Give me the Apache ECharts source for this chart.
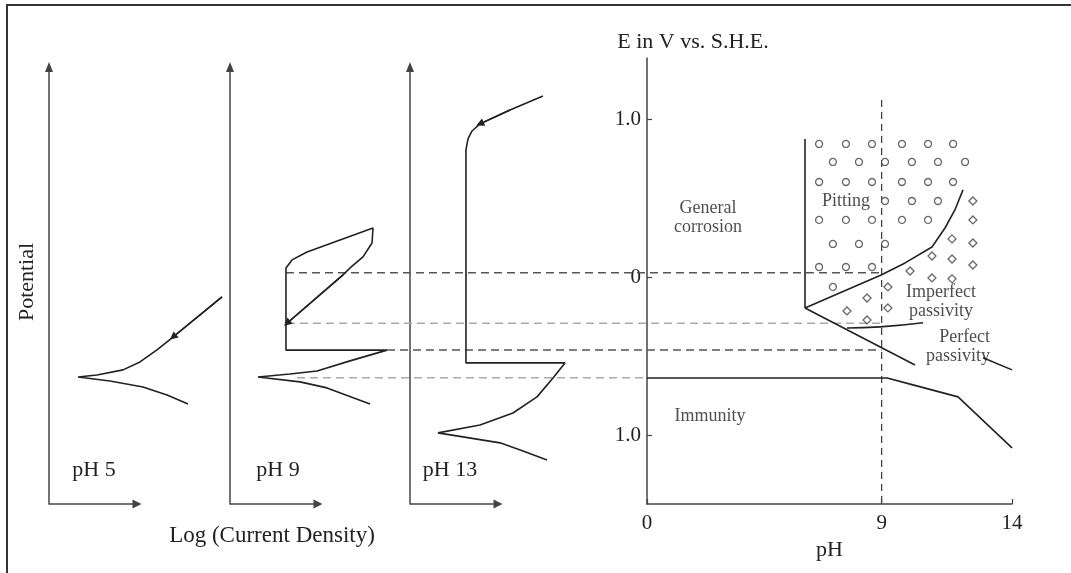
<!DOCTYPE html>
<html>
<head>
<meta charset="utf-8">
<script src="https://cdn.jsdelivr.net/npm/echarts@6/dist/echarts.min.js"></script>
<style>
  html, body { margin: 0; padding: 0; background: #fff; }
  #wrap { position: relative; width: 1071px; height: 573px; overflow: hidden; }
  #chart { width: 1071px; height: 573px; }
  #frame { position: absolute; left: 6px; top: 4px; right: -10px; bottom: -10px;
           border-left: 2px solid #333; border-top: 2px solid #333; pointer-events: none; }
</style>
</head>
<body>
<div id="wrap"><div id="chart"></div><div id="frame"></div></div>
<script>
// ---- Polarization curves: log current density (arbitrary units) vs potential (V vs S.H.E.)
const ph5LogI  = [19.66, 14.09, 12.27, 10.34, 8.41, 5.45, 3.30, 6.93, 10.68, 13.41, 15.80];
const ph5E     = [-0.123, -0.377, -0.459, -0.535, -0.585, -0.617, -0.630, -0.655, -0.693, -0.744, -0.801];

const ph9LogI  = [15.91, 11.02, 7.95, 3.18, 6.82, 9.89, 13.64, 17.84, 6.36, 6.36, 7.05, 8.75, 12.5, 16.25, 16.14, 15.11, 13.64, 12.84, 6.48];
const ph9E     = [-0.801, -0.699, -0.661, -0.630, -0.611, -0.592, -0.528, -0.46, -0.46, 0.06, 0.111, 0.161, 0.237, 0.313, 0.218, 0.130, 0.060, 0.016, -0.29];

const ph13LogI = [15.11, 11.36, 7.95, 7.05, 6.59, 6.36, 6.36, 17.61, 16.25, 14.43, 11.70, 7.95, 3.18, 6.02, 10.23, 12.84, 15.57];
const ph13E    = [1.149, 1.060, 0.972, 0.927, 0.877, 0.807, -0.541, -0.541, -0.636, -0.756, -0.858, -0.934, -0.984, -1.009, -1.047, -1.098, -1.155];

// scan-direction arrow: segment between two points of each curve [from, to]
const ph5Arrow  = [0, 1];
const ph9Arrow  = [17, 18];
const ph13Arrow = [1, 2];

const panelNames = ['pH 5', 'pH 9', 'pH 13'];
const LOGI_AXIS_END = 10;   // length of the drawn current-density arrow
const LOGI_MAX = 20;        // extent of each panel's scale

// ---- Pourbaix diagram (pH vs E)
const immunityPH = [0, 9.21, 10.20, 11.93, 14];
const immunityE  = [-0.636, -0.636, -0.68, -0.756, -1.079];

const pitWallPH = [6.06, 6.06];
const pitWallE  = [0.877, -0.193];

const pitBoundaryPH = [6.06, 8.98, 9.90, 10.93, 11.43, 11.81, 12.12];
const pitBoundaryE  = [-0.193, 0.016, 0.092, 0.193, 0.313, 0.427, 0.554];

const passiveLowerPH = [6.06, 10.28];
const passiveLowerE  = [-0.193, -0.554];

const passiveTailPH = [12.89, 14];
const passiveTailE  = [-0.509, -0.585];

const imperfectLowerPH = [7.67, 8.94, 10.59];
const imperfectLowerE  = [-0.320, -0.313, -0.287];

const refPH = 9;
const refLineE = [1.123, -1.434];

// pitting region (circles)
const circlePH = [6.60, 7.63, 8.63, 9.78, 10.78, 11.74,
                  7.13, 8.13, 9.13, 10.16, 11.16, 12.20,
                  6.60, 7.63, 8.63, 9.78, 10.78, 11.74,
                  9.13, 10.16, 11.16,
                  6.60, 7.63, 8.63, 9.78, 10.78,
                  7.13, 8.13, 9.13,
                  6.60, 7.63, 8.63,
                  7.13];
const circleE  = [0.845, 0.845, 0.845, 0.845, 0.845, 0.845,
                  0.731, 0.731, 0.731, 0.731, 0.731, 0.731,
                  0.604, 0.604, 0.604, 0.604, 0.604, 0.604,
                  0.484, 0.484, 0.484,
                  0.364, 0.364, 0.364, 0.364, 0.364,
                  0.212, 0.212, 0.212,
                  0.066, 0.066, 0.066,
                  -0.060];

// imperfect passivity region (diamonds)
const diamondPH = [12.50, 12.50, 11.70, 12.50, 10.93, 11.70, 12.50, 10.09, 10.93, 11.70, 9.24, 8.44, 9.24, 7.67, 8.44];
const diamondE  = [0.484, 0.364, 0.244, 0.218, 0.136, 0.117, 0.079, 0.041, -0.003, -0.009, -0.060, -0.130, -0.193, -0.212, -0.269];

const regionNames = ['General\ncorrosion', 'Pitting', 'Imperfect\npassivity', 'Perfect\npassivity', 'Immunity'];
const regionPH    = [2.34, 7.63, 11.28, 13.16, 2.42];
const regionE     = [0.38, 0.484, -0.155, -0.44, -0.877];
const regionAlign = ['center', 'center', 'center', 'right', 'center'];

// dashed connectors from the pH 9 curve to the diagram
const dashE         = [0.03, -0.29, -0.46, -0.635];
const dashStartLogI = [6.36, 6.48, 17.84, 7.61];
const dashEndPH     = [9, 9, 9, 0];
const dashColors    = ['#555', '#aaa', '#555', '#aaa'];

const E_MIN = -1.434, PANEL_E_MAX = 1.332, POURBAIX_E_MAX = 1.389;
const pHTicks = [0, 9, 14];
const eTicks = [-1, 0, 1];

// ---- styles
const FONT = 'Liberation Serif';
const INK = '#222';
const AXIS = '#444';
const CURVE_W = 1.6;

const zip = (xs, ys) => xs.map((x, i) => [x, ys[i]]);

const chart = echarts.init(document.getElementById('chart'), null, { renderer: 'canvas' });

// each panel: 8.8 px per log-current unit, same potential scale as the diagram
const panelGrids = [49, 230, 410].map(left => ({ left, top: 67, width: 176, height: 437 }));

const panelX = i => ({
  type: 'value', gridIndex: i, min: 0, max: LOGI_MAX,
  axisLine: { show: false }, axisTick: { show: false }, axisLabel: { show: false }, splitLine: { show: false }
});
const panelY = i => ({
  type: 'value', gridIndex: i, min: E_MIN, max: PANEL_E_MAX,
  axisLine: { onZero: false, symbol: ['none', 'triangle'], symbolSize: [8, 10],
              lineStyle: { color: AXIS, width: 1.5 } },
  axisTick: { show: false }, axisLabel: { show: false }, splitLine: { show: false }
});

const curves = [[ph5LogI, ph5E, ph5Arrow], [ph9LogI, ph9E, ph9Arrow], [ph13LogI, ph13E, ph13Arrow]];

const panelSeries = [];
curves.forEach(([xs, es, arr], i) => {
  // current-density axis arrow
  panelSeries.push({
    type: 'lines', coordinateSystem: 'cartesian2d', xAxisIndex: i, yAxisIndex: i,
    silent: true, clip: false, symbol: ['none', 'triangle'], symbolSize: 9,
    lineStyle: { color: AXIS, width: 1.5, opacity: 1 },
    data: [{ coords: [[0, E_MIN], [LOGI_AXIS_END, E_MIN]] }], z: 2
  });
  panelSeries.push({
    name: panelNames[i], type: 'line', xAxisIndex: i, yAxisIndex: i,
    data: zip(xs, es), symbol: 'none', silent: true,
    lineStyle: { color: INK, width: CURVE_W }, z: 3
  });
  panelSeries.push({
    type: 'lines', coordinateSystem: 'cartesian2d', xAxisIndex: i, yAxisIndex: i,
    silent: true, clip: false, symbol: ['none', 'triangle'], symbolSize: 8,
    lineStyle: { color: INK, width: CURVE_W, opacity: 1 },
    data: [{ coords: [[xs[arr[0]], es[arr[0]]], [xs[arr[1]], es[arr[1]]]] }], z: 4
  });
});

const pLine = (xs, es, extra) => Object.assign({
  type: 'line', xAxisIndex: 3, yAxisIndex: 3, data: zip(xs, es), symbol: 'none',
  silent: true, lineStyle: { color: INK, width: CURVE_W }, z: 3
}, extra || {});

const option = {
  animation: false,
  backgroundColor: '#fff',
  textStyle: { fontFamily: FONT },
  grid: panelGrids.concat([{ left: 647, top: 58, width: 365, height: 446 }]),
  xAxis: [panelX(0), panelX(1), panelX(2), {
    type: 'value', gridIndex: 3, min: 0, max: 14,
    name: 'pH', nameLocation: 'middle', nameGap: 35,
    nameTextStyle: { fontFamily: FONT, fontSize: 22, color: INK },
    axisLine: { onZero: false, lineStyle: { color: AXIS, width: 1.5 } },
    axisTick: { show: true, inside: true, length: 5, customValues: pHTicks, lineStyle: { color: AXIS, width: 1.2 } },
    axisLabel: { customValues: pHTicks, fontFamily: FONT, fontSize: 21, color: INK, margin: 9 },
    splitLine: { show: false }
  }],
  yAxis: [panelY(0), panelY(1), panelY(2), {
    type: 'value', gridIndex: 3, min: E_MIN, max: POURBAIX_E_MAX,
    axisLine: { onZero: false, lineStyle: { color: AXIS, width: 1.5 } },
    axisTick: { show: true, inside: true, length: 5, customValues: eTicks, lineStyle: { color: AXIS, width: 1.2 } },
    axisLabel: { customValues: eTicks, fontFamily: FONT, fontSize: 21, color: INK, margin: 6,
                 formatter: v => (v === 0 ? '0' : Math.abs(v).toFixed(1)) },
    splitLine: { show: false }
  }],
  series: panelSeries.concat([
    pLine(immunityPH, immunityE),
    pLine(pitWallPH, pitWallE),
    pLine(pitBoundaryPH, pitBoundaryE),
    pLine(passiveLowerPH, passiveLowerE),
    pLine(passiveTailPH, passiveTailE),
    pLine(imperfectLowerPH, imperfectLowerE, { smooth: true }),
    pLine([refPH, refPH], refLineE, { lineStyle: { color: '#444', width: 1.3, type: [7, 5] }, z: 2 }),
    {
      type: 'scatter', xAxisIndex: 3, yAxisIndex: 3, silent: true, z: 4,
      symbol: 'circle', symbolSize: 7, data: zip(circlePH, circleE),
      itemStyle: { color: '#fff', borderColor: '#444', borderWidth: 1.3 }
    },
    {
      type: 'scatter', xAxisIndex: 3, yAxisIndex: 3, silent: true, z: 4,
      symbol: 'diamond', symbolSize: 8, data: zip(diamondPH, diamondE),
      itemStyle: { color: '#fff', borderColor: '#444', borderWidth: 1.3 }
    },
    {
      type: 'scatter', xAxisIndex: 3, yAxisIndex: 3, silent: true, z: 6,
      symbolSize: 0,
      data: regionNames.map((n, i) => ({ name: n, value: [regionPH[i], regionE[i]], label: { align: regionAlign[i] } })),
      label: { show: true, position: 'inside', formatter: p => p.name,
               fontFamily: FONT, fontSize: 18, lineHeight: 19, color: INK }
    }
  ])
};

chart.setOption(option);

// free-standing texts
const textEl = (id, text, x, y, size, rotation) => ({
  id, type: 'text', x, y, rotation: rotation || 0, silent: true, z: 10,
  style: { text, fill: INK, font: size + 'px "' + FONT + '"',
           textAlign: 'center', textVerticalAlign: 'middle', align: 'center', verticalAlign: 'middle' }
});

const panelLabelX = [94, 278, 450];
const texts = [
  textEl('t-title', 'E in V vs. S.H.E.', 693, 42, 22),
  textEl('t-logi', 'Log (Current Density)', 272, 536, 23),
  textEl('t-pot', 'Potential', 27, 282, 22, Math.PI / 2)
].concat(panelNames.map((n, i) => textEl('t-p' + i, n, panelLabelX[i], 470, 22)));

// dashed connectors, positioned through each grid's own scales
const connectors = dashE.map((e, k) => {
  const a = chart.convertToPixel({ gridIndex: 1 }, [dashStartLogI[k], e]);
  const b = chart.convertToPixel({ gridIndex: 3 }, [dashEndPH[k], e]);
  return {
    id: 'dash' + k, type: 'line', silent: true, z: 1,
    shape: { x1: a[0], y1: a[1], x2: b[0], y2: b[1] },
    style: { stroke: dashColors[k], lineWidth: 1.5, lineDash: [8, 5] }
  };
});

chart.setOption({ graphic: { elements: texts.concat(connectors) } });
</script>
</body>
</html>
